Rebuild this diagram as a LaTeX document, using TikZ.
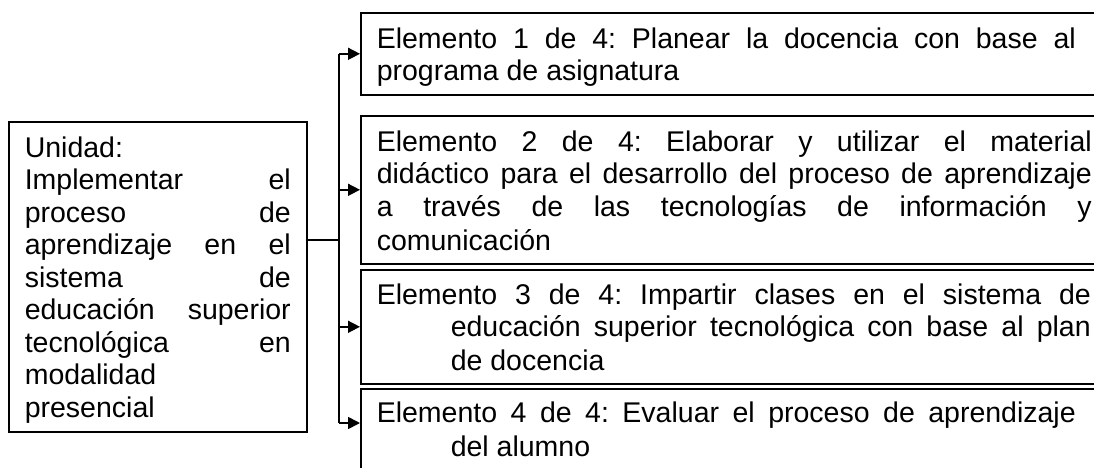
\documentclass[tikz,border=0pt]{standalone}
\usepackage{fontspec}
\setmainfont{Liberation Sans}
\usetikzlibrary{arrows.meta}
\newcommand{\lnstrut}{\rule[-5.5pt]{0pt}{32.5pt}}
\newcommand{\boxfont}{\fontsize{28.5}{32.5}\selectfont\frenchspacing
  \tolerance=10000 \hbadness=10000 \hyphenpenalty=10000 \parindent=0pt\relax}
\newcommand{\elemtext}[3]{\parbox[t]{#1}{\boxfont\leftskip=0pt \rightskip=0pt \spaceskip=0pt \xspaceskip=0pt
  \parfillskip=0pt plus 1fil \hangindent=#2\hangafter=1\relax\lnstrut #3\lnstrut}}
\begin{document}
\begin{tikzpicture}[x=1pt, y=-1pt, >={Triangle[length=12pt,width=12pt]},
  box/.style={draw, line width=1.6pt, anchor=north west, align=justify, inner xsep=16pt, inner ysep=0pt, font=\boxfont},
  elembox/.style={box, text width=760pt},
  link/.style={line width=1.6pt}]
  \useasboundingbox (0,0) rectangle (1094,468);
  \clip (0,0) rectangle (1094,468);
  \node[box, text width=266pt, minimum height=310pt] (unidad) at (8,121)
    {\lnstrut Unidad:\newline Implementar el\linebreak proceso de\linebreak aprendizaje en el\linebreak sistema de\linebreak educación superior\linebreak tecnológica en\linebreak modalidad\linebreak presencial\lnstrut};
  \node[elembox, minimum height=82pt] (elem1) at (360,12)
    {\elemtext{699pt}{0pt}{Elemento 1 de 4: Planear la docencia con base al\linebreak programa de asignatura}};
  \node[elembox, minimum height=148pt] (elem2) at (360,115)
    {\elemtext{715pt}{0pt}{Elemento 2 de 4: Elaborar y utilizar el material\linebreak didáctico para el desarrollo del proceso de aprendizaje\linebreak a través de las tecnologías de información y\linebreak comunicación}};
  \node[elembox, minimum height=114pt] (elem3) at (360,269)
    {\elemtext{714pt}{74pt}{Elemento 3 de 4: Impartir clases en el sistema de\linebreak educación superior tecnológica con base al plan\linebreak de docencia}};
  \node[elembox, inner ysep=7pt, text depth=80pt] (elem4) at (360,388)
    {\elemtext{699pt}{74pt}{Elemento 4 de 4: Evaluar el proceso de aprendizaje\linebreak del alumno}};
  \coordinate (split) at (339,240);
  \coordinate (in4) at ([yshift=-35pt]elem4.north west);
  \draw[link] (unidad.east |- split) -- (split);
  \draw[link] (split |- elem1.west) -- (split |- in4);
  \draw[link, ->] (split |- elem1.west) -- (elem1.west);
  \draw[link, ->] (split |- elem2.west) -- (elem2.west);
  \draw[link, ->] (split |- elem3.west) -- (elem3.west);
  \draw[link, ->] (split |- in4) -- (in4);
\end{tikzpicture}
\end{document}
